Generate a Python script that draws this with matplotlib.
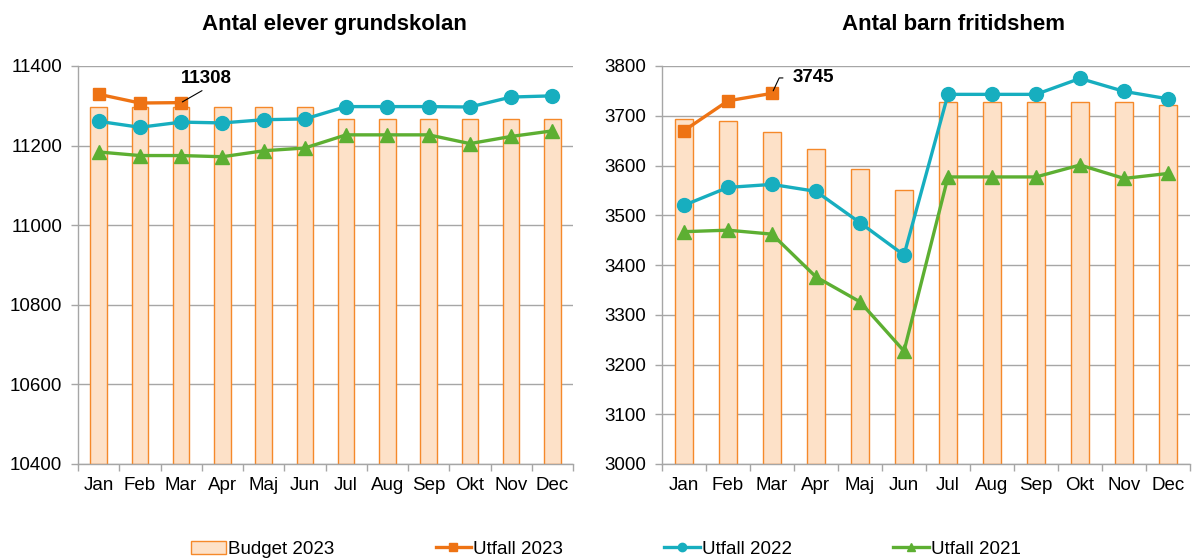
import matplotlib
matplotlib.use("Agg")
import matplotlib.pyplot as plt
import numpy as np

plt.rcParams['font.family'] = ['Liberation Sans', 'DejaVu Sans']

months = ["Jan", "Feb", "Mar", "Apr", "Maj", "Jun", "Jul", "Aug", "Sep", "Okt", "Nov", "Dec"]

# Left: Antal elever grundskolan
gs_budget_2023 = [11297, 11297, 11297, 11297, 11297, 11297, 11267, 11267, 11267, 11267, 11267, 11267]
gs_utfall_2023 = [11329, 11307, 11308]
gs_utfall_2022 = [11261, 11246, 11259, 11257, 11265, 11267, 11298, 11298, 11298, 11297, 11322, 11325]
gs_utfall_2021 = [11184, 11175, 11175, 11172, 11187, 11194, 11227, 11227, 11227, 11205, 11223, 11237]

# Right: Antal barn fritidshem
fh_budget_2023 = [3693, 3690, 3668, 3634, 3593, 3550, 3728, 3728, 3728, 3728, 3728, 3722]
fh_utfall_2023 = [3670, 3730, 3745]
fh_utfall_2022 = [3520, 3556, 3562, 3548, 3485, 3420, 3743, 3743, 3743, 3775, 3749, 3734]
fh_utfall_2021 = [3467, 3470, 3462, 3376, 3326, 3227, 3577, 3577, 3577, 3601, 3574, 3584]

c_bar_face = "#FDE1C8"
c_bar_edge = "#F5892A"
c_orange = "#EE7314"
c_teal = "#17AEBF"
c_green = "#5DAF32"
c_grid = "#A6A6A6"
FS = 13.5

fig = plt.figure(figsize=(11.92, 5.58), dpi=100)
ax1 = fig.add_axes([78/1192, 1-464/558, (573-78)/1192, (464-66)/558])
ax2 = fig.add_axes([662/1192, 1-464/558, (1190-662)/1192, (464-66)/558])

def draw(ax, budget, u23, u22, u21, ylim, step, title, title_x, ypad):
    x = np.arange(len(months))
    hb = ax.bar(x, np.array(budget) - ylim[0], bottom=ylim[0], width=0.4, color=c_bar_face,
                edgecolor=c_bar_edge, linewidth=1.0, label="Budget 2023", zorder=2)
    h23, = ax.plot(np.arange(len(u23)), u23, color=c_orange, lw=2.4, marker="s", ms=9,
                   label="Utfall 2023", zorder=5)
    h22, = ax.plot(x, u22, color=c_teal, lw=2.4, marker="o", ms=10, label="Utfall 2022", zorder=4)
    h21, = ax.plot(x, u21, color=c_green, lw=2.4, marker="^", ms=10, label="Utfall 2021", zorder=3)
    ax.set_ylim(*ylim)
    ax.set_xlim(-0.5, len(months) - 0.5)
    ax.set_yticks(np.arange(ylim[0], ylim[1] + 1, step))
    ax.set_xticks(x)
    ax.set_xticklabels(months)
    ax.set_xticks(np.arange(-0.5, len(months), 1), minor=True)
    ax.tick_params(axis="x", which="major", length=0, labelsize=FS, pad=9, colors="black")
    ax.tick_params(axis="x", which="minor", length=5, color=c_grid, width=1)
    ax.tick_params(axis="y", length=5, color=c_grid, labelsize=FS, pad=ypad, width=1)
    ax.yaxis.grid(True, color=c_grid, lw=1, zorder=0)
    ax.set_axisbelow(True)
    for s in ["top", "right"]:
        ax.spines[s].set_visible(False)
    for s in ["left", "bottom"]:
        ax.spines[s].set_color(c_grid)
        ax.spines[s].set_linewidth(1)
    ax.set_title(title, fontsize=16, fontweight="bold", pad=26, x=title_x)
    return [hb, h23, h22, h21]

handles = draw(ax1, gs_budget_2023, gs_utfall_2023, gs_utfall_2022, gs_utfall_2021,
               (10400, 11400), 200, "Antal elever grundskolan", 0.519, 6.5)
draw(ax2, fh_budget_2023, fh_utfall_2023, fh_utfall_2022, fh_utfall_2021,
     (3000, 3800), 100, "Antal barn fritidshem", 0.552, 6.5)

ax1.annotate(str(gs_utfall_2023[-1]), xy=(2, gs_utfall_2023[-1]), xytext=(2.0, 11369),
             fontsize=FS, fontweight="bold", ha="left", va="center",
             arrowprops=dict(arrowstyle="-", color="black", lw=0.8, shrinkA=1.5, shrinkB=1,
                             relpos=(0.54, 0.0)), zorder=6)
ax2.annotate(str(fh_utfall_2023[-1]), xy=(2, fh_utfall_2023[-1]), xytext=(2.47, 3776),
             fontsize=FS, fontweight="bold", ha="left", va="center",
             arrowprops=dict(arrowstyle="-", color="black", lw=0.8, shrinkA=5, shrinkB=2,
                             connectionstyle="angle,angleA=180,angleB=65,rad=0",
                             relpos=(0.0, 0.5)), zorder=6)

labels = [h.get_label() for h in handles]
fig.legend(handles, labels, loc="lower center", bbox_to_anchor=(0.508, -0.03), ncol=4,
           frameon=False, fontsize=FS, handlelength=1.9, handletextpad=0.1,
           columnspacing=5.4, markerscale=0.6)

fig.savefig("out.png", dpi=100)
